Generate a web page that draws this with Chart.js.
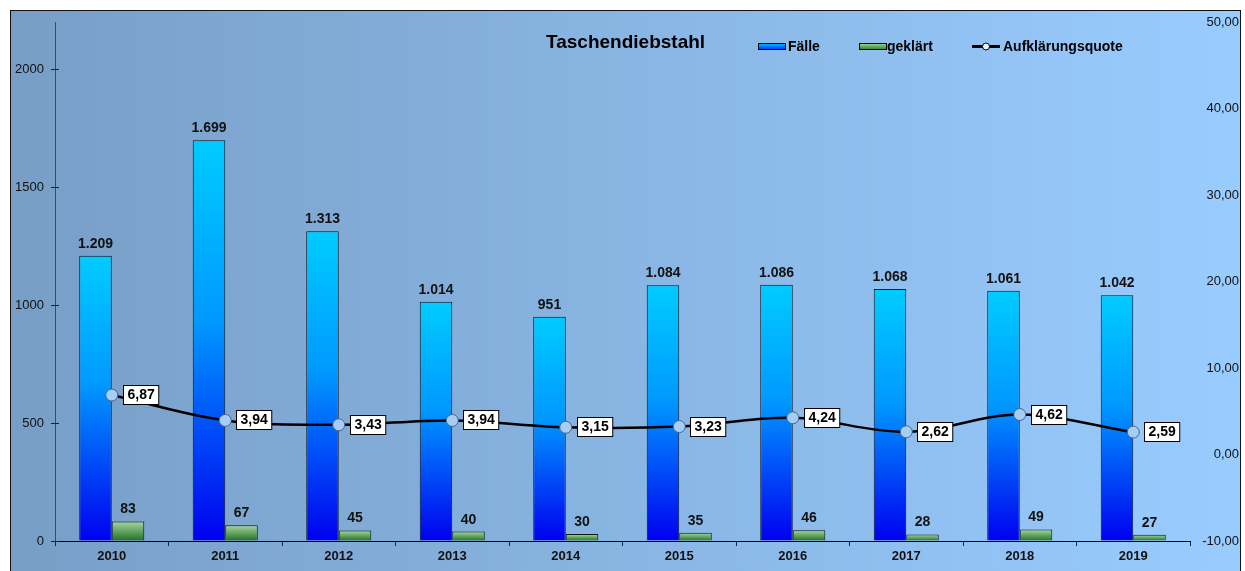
<!DOCTYPE html>
<html>
<head>
<meta charset="utf-8">
<script src="https://cdn.jsdelivr.net/npm/chart.js@4"></script>
<style>
  html, body { margin: 0; padding: 0; background: #fff; }
  #wrap { width: 1245px; height: 571px; }
</style>
</head>
<body>
<div id="wrap"><canvas id="chart" width="1245" height="571"></canvas></div>
<script>
const years = ["2010", "2011", "2012", "2013", "2014", "2015", "2016", "2017", "2018", "2019"];
const faelle = [1209, 1699, 1313, 1014, 951, 1084, 1086, 1068, 1061, 1042];
const geklaert = [83, 67, 45, 40, 30, 35, 46, 28, 49, 27];
const quote = [6.87, 3.94, 3.43, 3.94, 3.15, 3.23, 4.24, 2.62, 4.62, 2.59];
const leftTicks = [0, 500, 1000, 1500, 2000];
const rightTicks = [-10, 0, 10, 20, 30, 40, 50];
const chartTitle = "Taschendiebstahl";

const FONT = "'Liberation Sans', Arial, sans-serif";

// thousands with a dot, decimals with a comma
function fmtInt(v) {
  return String(v).replace(/\B(?=(\d{3})+(?!\d))/g, ".");
}
function fmtDec(v) {
  return v.toFixed(2).replace(".", ",");
}

// vertical gradient per bar, from its top down to zero
function barGradient(stops) {
  return function (ctx) {
    const chart = ctx.chart;
    if (!chart.chartArea || ctx.type !== "data") return stops[0][1];
    const ys = chart.scales.y;
    const g = chart.ctx.createLinearGradient(0, ys.getPixelForValue(ctx.raw), 0, ys.getPixelForValue(0));
    stops.forEach(s => g.addColorStop(s[0], s[1]));
    return g;
  };
}
const blueStops = [[0, "#00ccff"], [0.45, "#0099ff"], [1, "#0000f0"]];
const greenStops = [[0, "#a8d8a0"], [1, "#1f6f22"]];

// frame + background gradient
const backgroundPlugin = {
  id: "background",
  beforeDraw(chart) {
    const c = chart.ctx;
    c.save();
    c.fillStyle = "#ffffff";
    c.fillRect(0, 0, chart.width, chart.height);
    const g = c.createLinearGradient(10, 0, 1241, 0);
    g.addColorStop(0, "#789ec6");
    g.addColorStop(1, "#99ccff");
    c.fillStyle = g;
    c.fillRect(10, 10, 1231, 570);
    c.strokeStyle = "#111";
    c.lineWidth = 1;
    c.strokeRect(10.5, 10.5, 1230, 570);
    c.restore();
  }
};

// title and legend
const legendPlugin = {
  id: "customLegend",
  afterDraw(chart) {
    const c = chart.ctx;
    const ds = chart.data.datasets;
    c.save();
    c.fillStyle = "#000";
    c.textBaseline = "alphabetic";
    c.textAlign = "left";
    c.font = "bold 19px " + FONT;
    c.fillText(chartTitle, 546, 48);

    c.font = "bold 14px " + FONT;
    c.strokeStyle = "#000"; c.lineWidth = 1;
    // Fälle
    let g = c.createLinearGradient(0, 43, 0, 49);
    g.addColorStop(0, "#00ccff"); g.addColorStop(1, "#0040ff");
    c.fillStyle = g;
    c.fillRect(758, 43, 27, 6);
    c.strokeRect(758.5, 43.5, 27, 6);
    c.fillStyle = "#000";
    c.fillText(ds[0].label, 788, 51);
    // geklärt
    g = c.createLinearGradient(0, 43, 0, 49);
    g.addColorStop(0, "#a8d8a0"); g.addColorStop(1, "#3a8a3a");
    c.fillStyle = g;
    c.fillRect(859, 43, 27, 6);
    c.strokeRect(859.5, 43.5, 27, 6);
    c.fillStyle = "#000";
    c.fillText(ds[1].label, 887, 51);
    // Aufklärungsquote
    c.lineWidth = 3;
    c.beginPath(); c.moveTo(972, 46.5); c.lineTo(1000, 46.5); c.stroke();
    c.lineWidth = 1;
    c.fillStyle = "#e6f2ff";
    c.beginPath(); c.arc(986, 46.5, 3.5, 0, Math.PI * 2); c.fill(); c.stroke();
    c.fillStyle = "#000";
    c.fillText(ds[2].label, 1003, 51);
    c.restore();
  }
};

// value labels above bars, boxed labels for the rate line, crossing ticks on the left axis
const labelPlugin = {
  id: "valueLabels",
  afterDatasetsDraw(chart) {
    const c = chart.ctx;
    c.save();
    c.strokeStyle = "#222";
    c.lineWidth = 1;
    const ys = chart.scales.y;
    leftTicks.forEach(v => {
      const y = Math.round(ys.getPixelForValue(v)) + 0.5;
      c.beginPath(); c.moveTo(ys.right, y); c.lineTo(ys.right + 4, y); c.stroke();
    });

    c.fillStyle = "#111";
    c.font = "bold 14px " + FONT;
    c.textAlign = "center";
    c.textBaseline = "alphabetic";
    [0, 1].forEach(i => {
      chart.getDatasetMeta(i).data.forEach((bar, j) => {
        c.fillText(fmtInt(chart.data.datasets[i].data[j]), bar.x, bar.y - 8);
      });
    });
    c.font = "bold 14px " + FONT;
    c.textBaseline = "middle";
    chart.getDatasetMeta(2).data.forEach((pt, j) => {
      const txt = fmtDec(chart.data.datasets[2].data[j]);
      const w = c.measureText(txt).width + 8;
      const x = Math.round(pt.x + 11) + 0.5;
      const y = Math.round(pt.y - 10) + 0.5;
      c.fillStyle = "#fff";
      c.fillRect(x, y, w, 19);
      c.strokeStyle = "#000";
      c.lineWidth = 1;
      c.strokeRect(x, y, w, 19);
      c.fillStyle = "#000";
      c.fillText(txt, x + w / 2, y + 10);
    });
    c.restore();
  }
};

new Chart(document.getElementById("chart"), {
  type: "bar",
  data: {
    labels: years,
    datasets: [
      {
        label: "Fälle",
        data: faelle,
        yAxisID: "y",
        backgroundColor: barGradient(blueStops),
        borderColor: "#0a1020",
        borderWidth: 1,
        categoryPercentage: 0.573,
        barPercentage: 1,
        order: 1
      },
      {
        label: "geklärt",
        data: geklaert,
        yAxisID: "y",
        backgroundColor: barGradient(greenStops),
        borderColor: "#0a1a0a",
        borderWidth: 1,
        categoryPercentage: 0.573,
        barPercentage: 1,
        order: 1
      },
      {
        type: "line",
        label: "Aufklärungsquote",
        data: quote,
        yAxisID: "y2",
        borderColor: "#000",
        borderWidth: 2.5,
        tension: 0.35,
        pointRadius: 6,
        pointBackgroundColor: "#a6cdf5",
        pointBorderColor: "#4d6688",
        pointBorderWidth: 1,
        order: 0
      }
    ]
  },
  options: {
    responsive: false,
    animation: false,
    layout: { padding: { left: 0, right: 6, top: 22, bottom: 0 } },
    plugins: {
      legend: { display: false },
      title: { display: false },
      tooltip: { enabled: false }
    },
    scales: {
      x: {
        grid: { display: true, drawOnChartArea: false, tickLength: 5, color: "#222", offset: true },
        border: { display: true, color: "#000", width: 1 },
        ticks: { color: "#111", font: { family: FONT, size: 13, weight: "bold" }, padding: 3 },
        afterFit(scale) { scale.height = 30; }
      },
      y: {
        position: "left",
        min: 0,
        max: 2200,
        afterBuildTicks(scale) { scale.ticks = leftTicks.map(v => ({ value: v })); },
        grid: { display: true, drawOnChartArea: false, tickLength: 4, color: "#222" },
        border: { display: true, color: "#3a4a66", width: 1 },
        ticks: { color: "#111", font: { family: FONT, size: 13 }, padding: 7, callback: v => String(v) },
        afterFit(scale) { scale.width = 55; }
      },
      y2: {
        position: "right",
        min: -10,
        max: 50,
        afterBuildTicks(scale) { scale.ticks = rightTicks.map(v => ({ value: v })); },
        grid: { display: false },
        border: { display: false },
        ticks: {
          color: "#111",
          font: { family: FONT, size: 13 },
          crossAlign: "far",
          callback: v => fmtDec(v)
        },
        afterFit(scale) { scale.width = 49; }
      }
    }
  },
  plugins: [backgroundPlugin, labelPlugin, legendPlugin]
});
</script>
</body>
</html>
